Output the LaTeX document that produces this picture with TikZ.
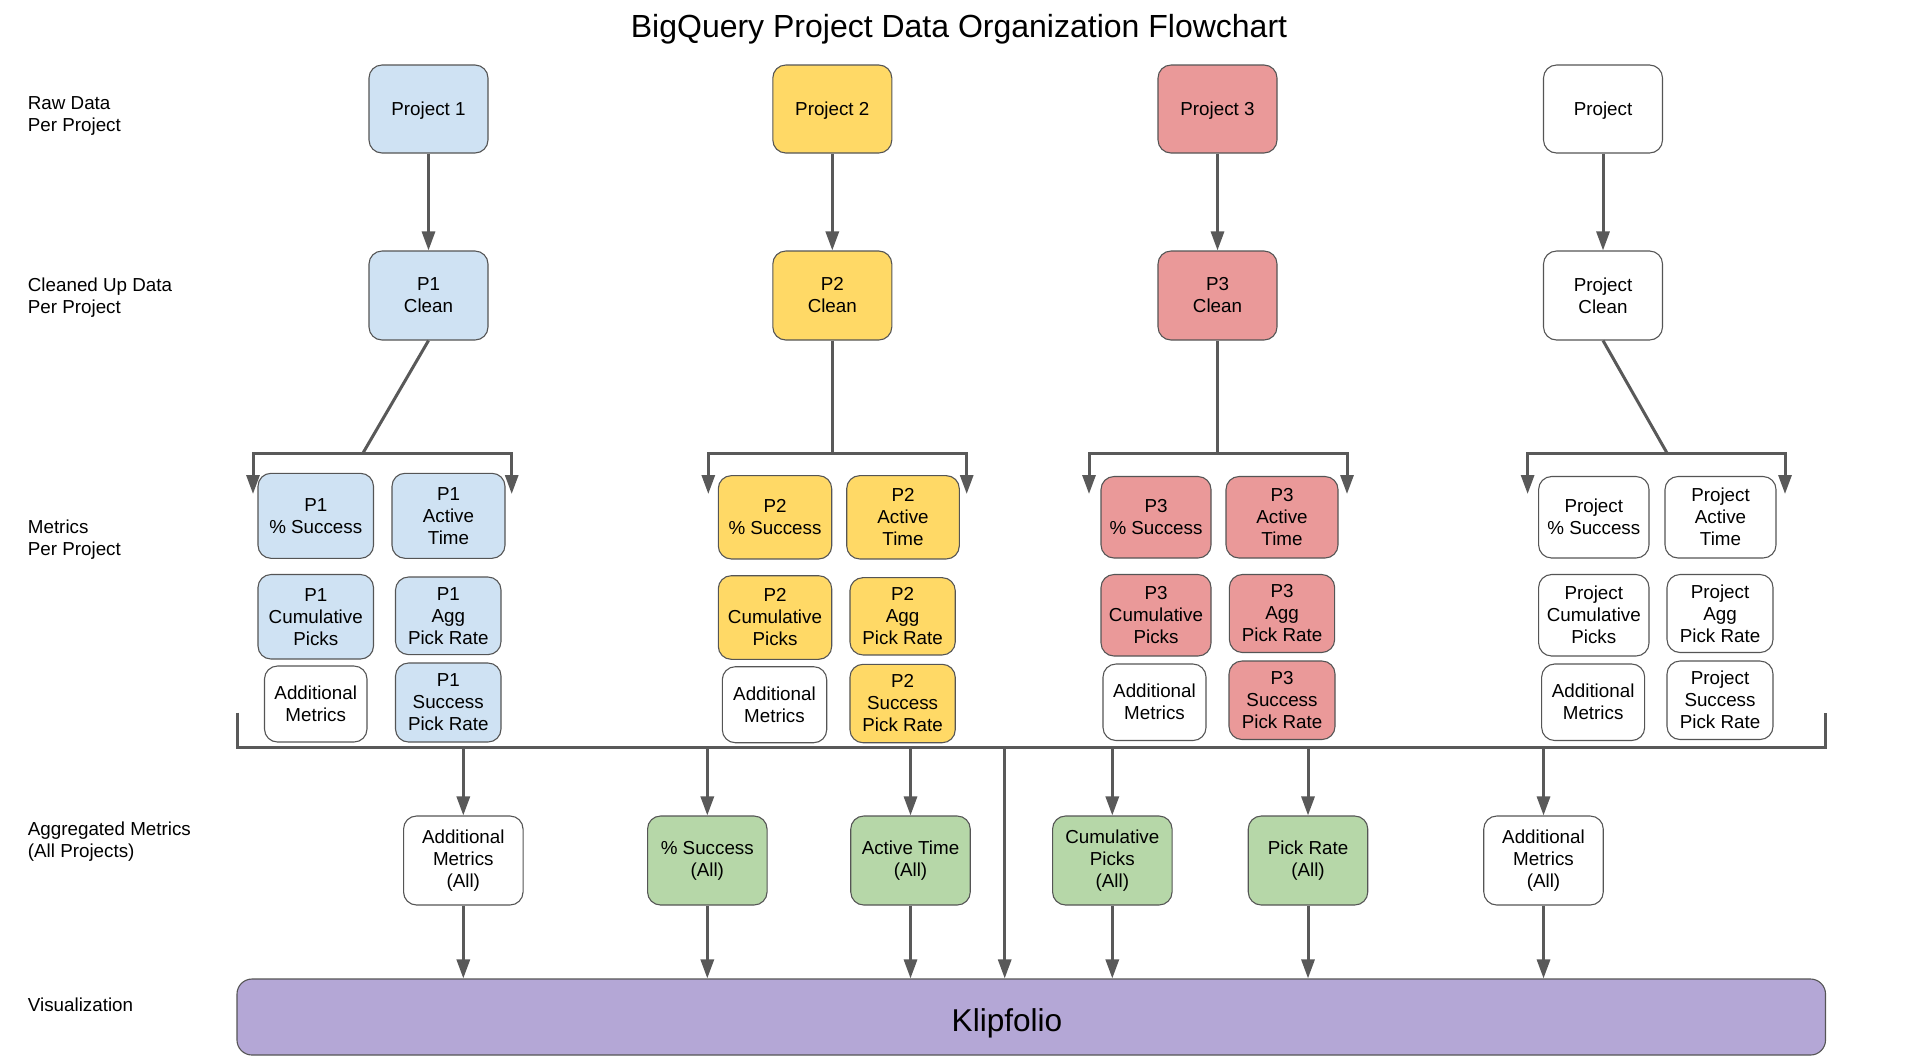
\documentclass[tikz,border=0pt]{standalone}
\usepackage{fontspec}
\setmainfont{Liberation Sans}
\usetikzlibrary{arrows.meta}
\definecolor{cblue}{HTML}{CFE2F3}
\definecolor{cyellow}{HTML}{FFD966}
\definecolor{cred}{HTML}{EA9999}
\definecolor{cgreen}{HTML}{B6D7A8}
\definecolor{cpurple}{HTML}{B4A7D6}
\definecolor{cborder}{HTML}{555555}
\definecolor{cline}{HTML}{595959}
\begin{document}
\begin{tikzpicture}[x=0.5pt,y=-0.5pt,
  box/.style={draw=cborder, line width=0.55pt, rounded corners=6.5pt, align=center, inner sep=0pt, font=\fontsize{9.4}{11}\selectfont, text=black},
  sz/.style 2 args={minimum width={#1*0.5pt}, minimum height={#2*0.5pt}},
  conn/.style={draw=cline, line width=1.5pt},
  arr/.style={conn, -{Triangle[length=9.5pt,width=6.5pt]}},
  darr/.style={conn, {Triangle[length=9.5pt,width=6.5pt]}-{Triangle[length=9.5pt,width=6.5pt]}},
  lab/.style={anchor=west, align=left, inner sep=0pt, font=\fontsize{9.4}{11}\selectfont}]
\useasboundingbox (0,0) rectangle (1920,1056);

% title
\node[anchor=base, inner sep=0pt, font=\fontsize{16}{19}\selectfont] (title) at (959,37) {BigQuery Project Data Organization Flowchart};

% row labels
\node[lab] (l1) at (27.5,115.5) {Raw Data\\Per Project};
\node[lab] (l2) at (27.5,297.5) {Cleaned Up Data\\Per Project};
\node[lab] (l3) at (27.5,540) {Metrics\\Per Project};
\node[lab] (l4) at (27.5,842) {Aggregated Metrics\\(All Projects)};
\node[lab] (l5) at (27.5,1004.5) {Visualization};

% raw data
\node[box, fill=cblue, sz={119}{88}, text depth=0pt] (r1) at (428.5,109) {Project 1};
\node[box, fill=cyellow, sz={119}{88}, text depth=0pt] (r2) at (832.3,109) {Project 2};
\node[box, fill=cred, sz={119}{88}, text depth=0pt] (r3) at (1217.5,109) {Project 3};
\node[box, fill=white, sz={119}{88}, text depth=0pt] (r4) at (1603,109) {Project};

% clean
\node[box, fill=cblue, sz={119}{89}] (c1) at (428.5,295.5) {P1\\Clean};
\node[box, fill=cyellow, sz={119}{89}] (c2) at (832.3,295.5) {P2\\Clean};
\node[box, fill=cred, sz={119}{89}] (c3) at (1217.5,295.5) {P3\\Clean};
\node[box, fill=white, sz={119}{89}] (c4) at (1603,295.5) {Project\\Clean};

\draw[arr] (r1) -- (c1);
\draw[arr] (r2) -- (c2);
\draw[arr] (r3) -- (c3);
\draw[arr] (r4) -- (c4);

% P1 metrics
\node[box, fill=cblue, sz={115.5}{85}] (p1a) at (315.75,515.8) {P1\\\% Success};
\node[box, fill=cblue, sz={113}{85}] (p1b) at (448.5,515.8) {P1\\Active\\Time};
\node[box, fill=cblue, sz={115.5}{84.5}] (p1c) at (315.75,616.75) {P1\\Cumulative\\Picks};
\node[box, fill=cblue, sz={105.5}{77.6}] (p1d) at (448.25,615.8) {P1\\Agg\\Pick Rate};
\node[box, fill=white, sz={102.5}{76}] (p1e) at (315.75,704) {Additional\\Metrics};
\node[box, fill=cblue, sz={105.5}{79}] (p1f) at (448.25,702.5) {P1\\Success\\Pick Rate};

% P2 metrics
\node[box, fill=cyellow, sz={113.4}{83.3}] (p2a) at (775,517.3) {P2\\\% Success};
\node[box, fill=cyellow, sz={112.6}{83.3}] (p2b) at (903,517.3) {P2\\Active\\Time};
\node[box, fill=cyellow, sz={113.4}{83.6}] (p2c) at (775,617.5) {P2\\Cumulative\\Picks};
\node[box, fill=cyellow, sz={105.3}{77.3}] (p2d) at (902.6,616.3) {P2\\Agg\\Pick Rate};
\node[box, fill=white, sz={104.4}{76}] (p2e) at (774.5,704.7) {Additional\\Metrics};
\node[box, fill=cyellow, sz={105.3}{78.4}] (p2f) at (902.6,703.5) {P2\\Success\\Pick Rate};

% P3 metrics
\node[box, fill=cred, sz={110}{81.5}] (p3a) at (1156,517.25) {P3\\\% Success};
\node[box, fill=cred, sz={112}{81.5}] (p3b) at (1282,517.25) {P3\\Active\\Time};
\node[box, fill=cred, sz={110}{81.5}] (p3c) at (1156,615.25) {P3\\Cumulative\\Picks};
\node[box, fill=cred, sz={105.3}{78}] (p3d) at (1282,613.5) {P3\\Agg\\Pick Rate};
\node[box, fill=white, sz={103}{76.5}] (p3e) at (1154.5,702.25) {Additional\\Metrics};
\node[box, fill=cred, sz={106}{78.5}] (p3f) at (1282,700.25) {P3\\Success\\Pick Rate};

% Project metrics
\node[box, fill=white, sz={110.4}{81.5}] (p4a) at (1593.8,517.25) {Project\\\% Success};
\node[box, fill=white, sz={111}{81.5}] (p4b) at (1720.5,517.25) {Project\\Active\\Time};
\node[box, fill=white, sz={110.4}{81.5}] (p4c) at (1593.8,615.25) {Project\\Cumulative\\Picks};
\node[box, fill=white, sz={106}{78}] (p4d) at (1720,613.5) {Project\\Agg\\Pick Rate};
\node[box, fill=white, sz={103}{76.5}] (p4e) at (1593.15,702.25) {Additional\\Metrics};
\node[box, fill=white, sz={106}{78.5}] (p4f) at (1720,700.25) {Project\\Success\\Pick Rate};

% junctions and brackets
\coordinate (j1) at (363,453);
\coordinate (j2) at (832.3,453);
\coordinate (j3) at (1217.5,453);
\coordinate (j4) at (1667,453);
\coordinate (b1l) at (253,494);
\coordinate (b1r) at (511.7,494);
\coordinate (b2l) at (708.3,494);
\coordinate (b2r) at (966.7,494);
\coordinate (b3l) at (1089,494);
\coordinate (b3r) at (1347,494);
\coordinate (b4l) at (1527.6,494);
\coordinate (b4r) at (1785,494);

\draw[conn] (c1.south) -- (j1);
\draw[conn] (c2.south) -- (j2);
\draw[conn] (c3.south) -- (j3);
\draw[conn] (c4.south) -- (j4);
\draw[darr] (b1l) -- (b1l |- j1) -- (b1r |- j1) -- (b1r);
\draw[darr] (b2l) -- (b2l |- j2) -- (b2r |- j2) -- (b2r);
\draw[darr] (b3l) -- (b3l |- j3) -- (b3r |- j3) -- (b3r);
\draw[darr] (b4l) -- (b4l |- j4) -- (b4r |- j4) -- (b4r);

% bus
\coordinate (busltop) at (237.5,712.5);
\coordinate (busl) at (237.5,747);
\coordinate (busr) at (1825,747);
\coordinate (busrtop) at (1825,712.5);
\draw[conn] (busltop) -- (busl) -- (busr) -- (busrtop);

% aggregated
\node[box, fill=white, sz={119.5}{89}] (ag1) at (463.3,860.5) {Additional\\Metrics\\(All)};
\node[box, fill=cgreen, sz={119.5}{89}] (ag2) at (707.3,860.5) {\% Success\\(All)};
\node[box, fill=cgreen, sz={119.5}{89}] (ag3) at (910.5,860.5) {Active Time\\(All)};
\node[box, fill=cgreen, sz={119.5}{89}] (ag4) at (1112.3,860.5) {Cumulative\\Picks\\(All)};
\node[box, fill=cgreen, sz={119.5}{89}] (ag5) at (1308,860.5) {Pick Rate\\(All)};
\node[box, fill=white, sz={119.5}{89}] (ag6) at (1543.5,860.5) {Additional\\Metrics\\(All)};

% visualization
\node[box, fill=cpurple, sz={1588.5}{76}, rounded corners=7.5pt] (klip) at (1031.25,1017) {};
\node[anchor=base, inner sep=0pt, font=\fontsize{15.8}{18}\selectfont] (kliptxt) at (1007,1031) {Klipfolio};

\foreach \a in {ag1,ag2,ag3,ag4,ag5,ag6}{
  \draw[arr] (\a |- busl) -- (\a);
  \draw[arr] (\a) -- (\a |- klip.north);
}
\coordinate (bk) at (1004.7,747);
\draw[arr] (bk) -- (bk |- klip.north);
\end{tikzpicture}
\end{document}
